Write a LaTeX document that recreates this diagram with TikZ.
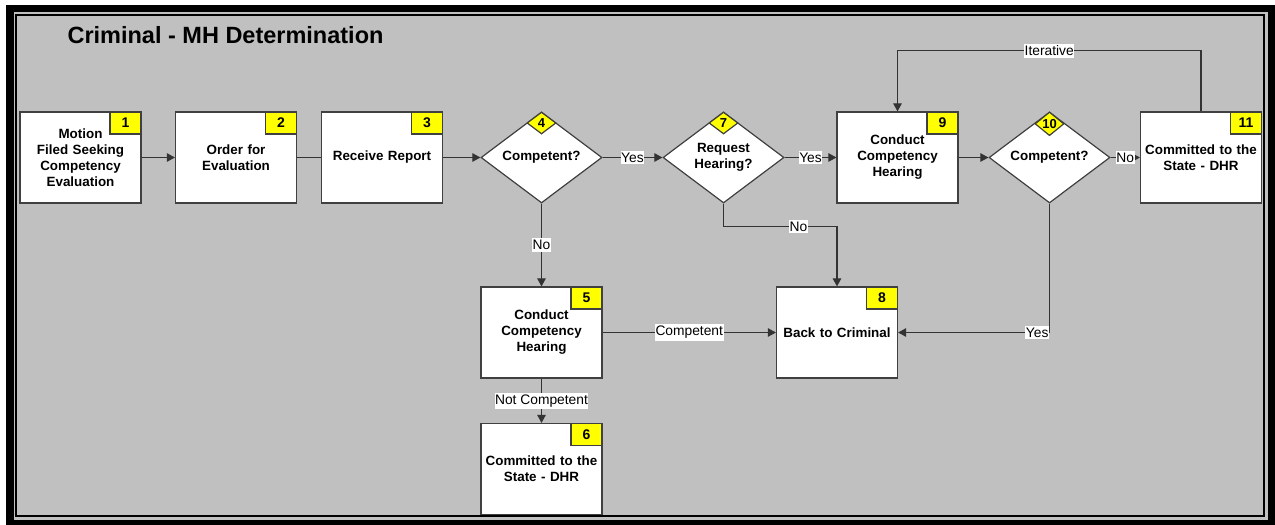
\documentclass[tikz,border=0pt]{standalone}
\usepackage{fontspec}
\setmainfont{Liberation Sans}
\usetikzlibrary{shapes.geometric,arrows.meta}
\definecolor{bggray}{HTML}{C0C0C0}
\definecolor{numyellow}{HTML}{FFFF00}
\begin{document}
\begin{tikzpicture}[x=1pt, y=-1pt,
  box/.style={draw=black!75, line width=1.2pt, fill=white, minimum width=121pt,
    minimum height=91pt, text width=118pt, align=center, inner sep=0pt,
    font=\bfseries\fontsize{13.4}{16}\selectfont},
  dec/.style={diamond, draw=black!75, line width=1.2pt, fill=white, minimum width=121pt,
    minimum height=91pt, shape aspect=1.33, inner sep=0pt, align=center,
    font=\bfseries\fontsize{13.4}{16}\selectfont},
  num/.style={draw=black!75, line width=1.2pt, fill=numyellow, minimum width=31pt,
    minimum height=22pt, inner sep=0pt, anchor=north east,
    font=\bfseries\fontsize{14}{14}\selectfont},
  dnum/.style={diamond, draw=black!75, line width=1.2pt, fill=numyellow, minimum width=29pt,
    minimum height=22pt, inner sep=0pt, anchor=north,
    font=\bfseries\fontsize{13}{13}\selectfont},
  lbl/.style={fill=white, inner xsep=0.5pt, inner ysep=2pt, font=\fontsize{13.8}{14}\selectfont},
  conn/.style={draw=black!80, line width=1.1pt},
  arr/.style={conn, -{Triangle[length=8pt,width=8.5pt]}}]
  \useasboundingbox (0,0) rectangle (1275,525);
  % frame
  \fill[white] (0,0) rectangle (1275,525);
  \fill[black] (6,5) rectangle (1275,525);
  \fill[bggray] (14,12) rectangle (1267.5,519.5);
  \draw[line width=2pt, fill=bggray] (16.3,15) rectangle (1264.3,516);
  \node[anchor=base west, font=\bfseries\fontsize{23.5}{23.5}\selectfont] (title) at (64,43.5)
    {Criminal - MH Determination};
  % steps
  \node[box] (b1) at (80.5,157.5) {Motion\\Filed Seeking\\Competency\\Evaluation};
  \node[box] (b2) at (236,157.5) {Order for\\Evaluation};
  \node[box] (b3) at (382,157.5) {Receive Report};
  \node[dec] (d4) at (541.5,157.5) {Competent?};
  \node[box] (b5) at (541.5,332.5) {Conduct\\Competency\\Hearing};
  \node[box] (b6) at (541.5,469) {Committed to the\\State - DHR};
  \node[dec] (d7) at (723.5,157.5) {Request\\Hearing?};
  \node[box] (b8) at (837,332.5) {Back to Criminal};
  \node[box] (b9) at (897.5,157.5) {Conduct\\Competency\\Hearing};
  \node[dec] (d10) at (1049.5,157.5) {Competent?};
  \node[box] (b11) at (1201,157.5) {Committed to the\\State - DHR};
  % numbers
  \node[num] (n1) at (b1.north east) {1};
  \node[num] (n2) at (b2.north east) {2};
  \node[num] (n3) at (b3.north east) {3};
  \node[dnum] (n4) at (d4.north) {4};
  \node[num] (n5) at (b5.north east) {5};
  \node[num] (n6) at (b6.north east) {6};
  \node[dnum] (n7) at (d7.north) {7};
  \node[num] (n8) at (b8.north east) {8};
  \node[num] (n9) at (b9.north east) {9};
  \node[dnum] (n10) at (d10.north) {10};
  \node[num] (n11) at (b11.north east) {11};
  % connectors
  \draw[arr] (b1) -- (b2);
  \draw[conn] (b2) -- (b3);
  \draw[arr] (b3) -- (d4);
  \draw[arr] (d4) -- node[lbl] (y4) {Yes} (d7);
  \draw[arr] (d4) -- node[lbl] (no4) {No} (b5);
  \draw[arr] (b5) -- node[lbl] (nc5) {Not Competent} (b6);
  \draw[arr] (b5) -- node[lbl] (c5) {Competent} (b8);
  \draw[arr] (d7) -- node[lbl] (y7) {Yes} (b9);
  \draw[arr] (d7.south) -- ++(0,23) -| node[lbl, pos=0.33] (no7) {No} (b8.north);
  \draw[arr] (b9) -- (d10);
  \draw[arr] (d10) -- node[lbl] (no10) {No} (b11);
  \draw[arr] (d10.south) |- node[lbl, pos=0.5, anchor=east] (y10) {Yes} (b8.east);
  \draw[arr] (b11.north) -- ++(0,-60.5) -| node[lbl, pos=0.25] (it) {Iterative} (b9.north);
\end{tikzpicture}
\end{document}
